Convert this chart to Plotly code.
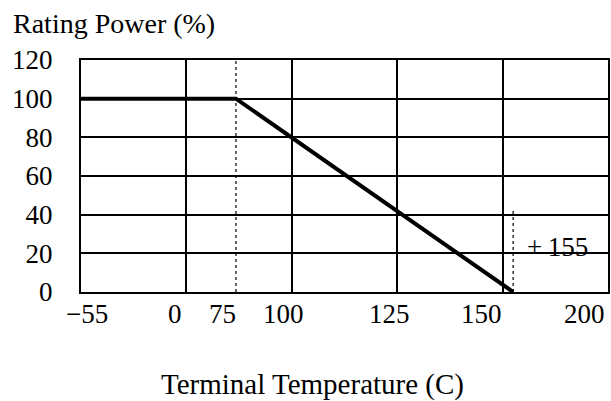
import numpy as np
import plotly.graph_objects as go

# ---- data ----
curve_temp = [-55, 75, 155]          # terminal temperature (C)
curve_power = [100, 100, 0]          # rating power (%)

# non-linear (schematic) temperature axis: breakpoints and their slot positions
scale_temp = [-55, 0, 75, 100, 125, 150, 200]
scale_slot = [0, 1, 1.47, 2, 3, 4, 5]

grid_temps = [-55, 0, 100, 125, 150, 200]
tick_temps = [-55, 0, 75, 100, 125, 150, 200]
tick_text = ["\u221255", "0", "75", "100", "125", "150", "200"]
tick_shift = [6, -11, -13, -8, -8, -21, -24]   # label nudges (px)

y_ticks = [0, 20, 40, 60, 80, 100, 120]

marker_temps = [75, 155]            # dotted reference lines
marker_tops = [120, 42]

def to_slot(t):
    return np.interp(t, scale_temp, scale_slot)

FONT = "Liberation Serif"
fig = go.Figure()

# dotted reference lines
for t, top in zip(marker_temps, marker_tops):
    fig.add_trace(go.Scatter(x=[to_slot(t), to_slot(t)], y=[0, top], mode="lines",
                             line=dict(color="black", width=1.2, dash="dot"),
                             hoverinfo="skip", showlegend=False))

# derating curve
fig.add_trace(go.Scatter(x=to_slot(curve_temp), y=curve_power, mode="lines",
                         line=dict(color="black", width=4),
                         showlegend=False, cliponaxis=False))

# x tick labels
for t, txt, sh in zip(tick_temps, tick_text, tick_shift):
    fig.add_annotation(x=float(to_slot(t)), y=0, xref="x", yref="y", text=txt,
                       showarrow=False, xanchor="center", yanchor="middle",
                       xshift=sh, yshift=-22, font=dict(family=FONT, size=27, color="black"))

# +155 label
fig.add_annotation(x=float(to_slot(155)), y=20, xref="x", yref="y", text="+\u2009155",
                   showarrow=False, xanchor="left", yanchor="middle",
                   xshift=12, yshift=6, font=dict(family=FONT, size=27, color="black"))

# axis titles
fig.add_annotation(x=0, y=1, xref="paper", yref="paper", text="Rating Power (%)",
                   showarrow=False, xanchor="left", yanchor="middle",
                   xshift=-70, yshift=37, font=dict(family=FONT, size=28, color="black"))
fig.add_annotation(x=(313 - 81) / 529, y=0, xref="paper", yref="paper",
                   text="Terminal Temperature (C)",
                   showarrow=False, xanchor="center", yanchor="middle",
                   yshift=-92, font=dict(family=FONT, size=29, color="black"))

fig.update_xaxes(range=[0, 5], tickvals=[float(to_slot(t)) for t in grid_temps],
                 showticklabels=False, ticks="", showgrid=True, gridcolor="black",
                 gridwidth=2, showline=True, linecolor="black", linewidth=2,
                 mirror=True, zeroline=False, fixedrange=True)
fig.update_yaxes(range=[0, 120], tickvals=y_ticks, ticks="", showgrid=True,
                 gridcolor="black", gridwidth=2, showline=True, linecolor="black",
                 linewidth=2, mirror=True, zeroline=False,
                 tickfont=dict(family=FONT, size=27, color="black"),
                 ticklabelstandoff=21, fixedrange=True)

fig.update_layout(width=611, height=401, margin=dict(l=81, r=1, t=60, b=109),
                  paper_bgcolor="white", plot_bgcolor="white", showlegend=False)

fig.write_html("out.html", config={"displayModeBar": False},
               post_script="document.body.style.margin='0';document.body.style.overflow='hidden';")
